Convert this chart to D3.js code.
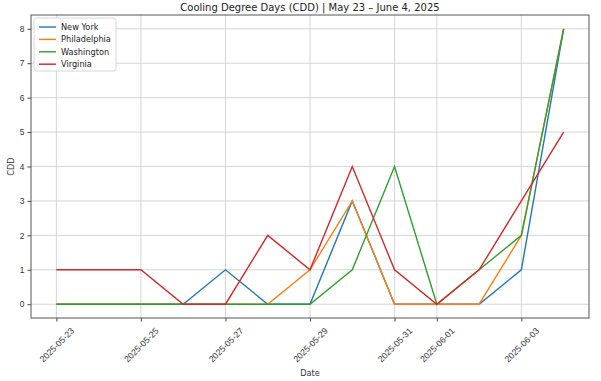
<!DOCTYPE html>
<html>
<head>
<meta charset="utf-8">
<script src="https://cdn.jsdelivr.net/npm/d3@7"></script>
<style>
  body { margin: 0; background: #fff; }
  svg { font-family: "DejaVu Sans", sans-serif; }
</style>
</head>
<body>
<svg id="chart" width="601" height="381"></svg>
<script>
// data
const dates = ["2025-05-23", "2025-05-24", "2025-05-25", "2025-05-26", "2025-05-27",
  "2025-05-28", "2025-05-29", "2025-05-30", "2025-05-31", "2025-06-01",
  "2025-06-02", "2025-06-03", "2025-06-04"];
const newYork      = [0, 0, 0, 0, 1, 0, 0, 3, 0, 0, 0, 1, 8];
const philadelphia = [0, 0, 0, 0, 0, 0, 1, 3, 0, 0, 0, 2, 8];
const washington   = [0, 0, 0, 0, 0, 0, 0, 1, 4, 0, 1, 2, 8];
const virginia     = [1, 1, 1, 0, 0, 2, 1, 4, 1, 0, 1, 3, 5];
const xTicks = ["2025-05-23", "2025-05-25", "2025-05-27", "2025-05-29", "2025-05-31", "2025-06-01", "2025-06-03"];
const yTicks = [0, 1, 2, 3, 4, 5, 6, 7, 8];

const series = [
  { name: "New York", values: newYork, color: "#1f77b4" },
  { name: "Philadelphia", values: philadelphia, color: "#ff7f0e" },
  { name: "Washington", values: washington, color: "#2ca02c" },
  { name: "Virginia", values: virginia, color: "#d62728" }
];

const parse = d3.utcParse("%Y-%m-%d");
const margin = { top: 15, right: 12, bottom: 63, left: 31 };
const svg = d3.select("#chart");
const width = 601 - margin.left - margin.right;
const height = 381 - margin.top - margin.bottom;

const t0 = parse(dates[0]), t1 = parse(dates[dates.length - 1]);
const pad = (t1 - t0) * 0.05;
const x = d3.scaleUtc()
  .domain([new Date(+t0 - pad), new Date(+t1 + pad)])
  .range([0, width]);
const y = d3.scaleLinear().domain([-0.4, 8.4]).range([height, 0]);

const g = svg.append("g").attr("transform", `translate(${margin.left},${margin.top})`);

// grid
g.append("g")
  .selectAll("line.gx")
  .data(xTicks)
  .join("line")
  .attr("x1", d => x(parse(d))).attr("x2", d => x(parse(d)))
  .attr("y1", 0).attr("y2", height)
  .attr("stroke", "#d0d0d0").attr("stroke-width", 0.9);
g.append("g")
  .selectAll("line.gy")
  .data(yTicks)
  .join("line")
  .attr("x1", 0).attr("x2", width)
  .attr("y1", d => y(d)).attr("y2", d => y(d))
  .attr("stroke", "#d0d0d0").attr("stroke-width", 0.9);

// lines
const line = d3.line()
  .x((d, i) => x(parse(dates[i])))
  .y(d => y(d));
g.selectAll("path.series")
  .data(series)
  .join("path")
  .attr("class", "series")
  .attr("fill", "none")
  .attr("stroke", d => d.color)
  .attr("stroke-width", 1.4)
  .attr("d", d => line(d.values));

// axes
const xAxis = g.append("g")
  .attr("transform", `translate(0,${height})`)
  .call(d3.axisBottom(x)
    .tickValues(xTicks.map(parse))
    .tickFormat(d3.utcFormat("%Y-%m-%d"))
    .tickSizeOuter(0).tickSize(3.5));
xAxis.select(".domain").remove();
// rotated labels centred under the tick, like matplotlib rotation=45
xAxis.selectAll("text")
  .attr("font-size", 8.7)
  .attr("fill", "#333")
  .attr("text-anchor", "middle")
  .attr("y", 0)
  .attr("dy", "0.35em")
  .attr("transform", "translate(0,27) rotate(-45)");

const yAxis = g.append("g")
  .call(d3.axisLeft(y).tickValues(yTicks).tickFormat(d3.format("d")).tickSizeOuter(0).tickSize(3.5));
yAxis.select(".domain").remove();
yAxis.selectAll("text").attr("font-size", 8.4).attr("fill", "#333");
g.selectAll(".tick line").attr("stroke", "#444");

// frame
g.append("rect")
  .attr("width", width).attr("height", height)
  .attr("fill", "none").attr("stroke", "#555").attr("stroke-width", 1);

// titles
svg.append("text")
  .attr("x", margin.left + width / 2).attr("y", 11)
  .attr("text-anchor", "middle").attr("font-size", 10).attr("fill", "#222")
  .text("Cooling Degree Days (CDD) | May 23 – June 4, 2025");
svg.append("text")
  .attr("x", margin.left + width / 2).attr("y", 376)
  .attr("text-anchor", "middle").attr("font-size", 8.2).attr("fill", "#333")
  .text("Date");
svg.append("text")
  .attr("transform", `translate(14,${margin.top + height / 2}) rotate(-90)`)
  .attr("text-anchor", "middle").attr("font-size", 8.2).attr("fill", "#333")
  .text("CDD");

// legend
const leg = g.append("g").attr("transform", "translate(3,3)");
leg.append("rect")
  .attr("width", 82).attr("height", 53).attr("rx", 2.5)
  .attr("fill", "#fff").attr("fill-opacity", 0.85)
  .attr("stroke", "#d6d6d6");
const items = leg.selectAll("g.item")
  .data(series)
  .join("g")
  .attr("transform", (d, i) => `translate(0,${9 + i * 12.4})`);
items.append("line")
  .attr("x1", 5).attr("x2", 22)
  .attr("stroke", d => d.color).attr("stroke-width", 1.4);
items.append("text")
  .attr("x", 27).attr("dy", "0.35em")
  .attr("font-size", 8.2).attr("fill", "#222")
  .text(d => d.name);
</script>
</body>
</html>
